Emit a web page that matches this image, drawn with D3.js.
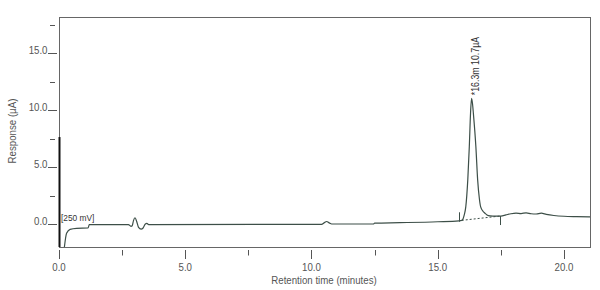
<!DOCTYPE html>
<html>
<head>
<meta charset="utf-8">
<script src="https://cdn.jsdelivr.net/npm/d3@7"></script>
<style>
  body { margin: 0; background: #fff; }
  svg text { font-family: "Liberation Sans Narrow", "Arial Narrow", "Liberation Sans", Arial, sans-serif; fill: #555; }
</style>
</head>
<body>
<svg id="chart" width="600" height="290"></svg>
<script>
// chromatogram trace (time in minutes, response in µA)
var traceTime = [0.21, 0.30, 0.44, 0.70, 1.15, 1.2, 2.75, 2.85, 2.9, 2.95, 3.01, 3.08, 3.15, 3.25, 3.33, 3.42, 3.48, 3.55,
  10.4, 10.5, 10.6, 10.7, 10.8, 12.45, 12.5, 13.5, 15.0, 15.84, 15.95, 16.0, 16.05, 16.11, 16.19, 16.25, 16.30, 16.34,
  16.38, 16.41, 16.51, 16.58, 16.65, 16.70, 16.80, 16.87, 16.95, 17.07, 17.3, 17.5, 17.7, 17.9, 18.1, 18.3, 18.5,
  18.7, 18.9, 19.1, 19.3, 19.6, 20.0, 20.5, 21.05];
var traceResp = [-2.1, -0.82, -0.47, -0.38, -0.35, -0.05, -0.05, -0.2, -0.15, 0.3, 0.55, 0.2, -0.3, -0.45, -0.35, 0.0, 0.05, -0.05,
  -0.03, 0.1, 0.22, 0.1, 0.0, 0.0, 0.08, 0.12, 0.2, 0.28, 0.32, 0.45, 0.8, 1.5, 3.9, 6.8, 9.8, 11.05,
  10.5, 9.75, 6.8, 3.9, 2.2, 1.5, 1.1, 0.95, 0.8, 0.72, 0.7, 0.7, 0.8, 0.9, 0.95, 0.92, 0.98,
  0.9, 0.88, 0.95, 0.85, 0.75, 0.68, 0.65, 0.63];

// integration baseline and peak markers
var baseTime = [15.95, 17.47];
var baseResp = [0.32, 0.70];
var markTime = [15.84, 17.47];
var markLow = [0.2, -0.09];
var markHigh = [1.03, 0.70];

var peakTime = 16.34, peakResp = 11.05;
var peakLabel = "*16.3m 10.7\u00b5A";

var xMajor = [0, 5, 10, 15, 20];
var xMinor = [2.5, 7.5, 12.5, 17.5];
var yMajor = [0, 5, 10, 15];
var yMinor = [2.5, 7.5, 12.5, 17.5];

var svg = d3.select("#chart");
var pLeft = 59, pRight = 590, pTop = 17, pBottom = 247;

var x = d3.scaleLinear().domain([0, 21.03]).range([pLeft, pRight]);
var y = d3.scaleLinear().domain([-2.02, 18.19]).range([pBottom, pTop]);

var ink = "#555";
var traceCol = "#3d4f48";
var squeeze = 0.88; // no narrow font installed, so squeeze text horizontally

function narrowText(sel, tx, ty, rot) {
  return sel.append("text")
    .attr("transform", "translate(" + tx + "," + ty + ")" + (rot ? " rotate(" + rot + ")" : "") + " scale(" + squeeze + ",1)");
}

// frame
svg.append("rect")
  .attr("x", pLeft + 0.5).attr("y", pTop + 0.5)
  .attr("width", pRight - pLeft).attr("height", pBottom - pTop)
  .attr("fill", "none").attr("stroke", "#666").attr("stroke-width", 1);

// 250 mV scale bar on the left axis
svg.append("line")
  .attr("x1", pLeft + 0.5).attr("x2", pLeft + 0.5)
  .attr("y1", y(7.64)).attr("y2", pBottom)
  .attr("stroke", "#111").attr("stroke-width", 2);

// x ticks (set off below the frame)
var xg = svg.append("g");
xg.selectAll(".maj").data(xMajor).enter().append("line")
  .attr("x1", function(d) { return Math.round(x(d)) + 0.5; })
  .attr("x2", function(d) { return Math.round(x(d)) + 0.5; })
  .attr("y1", 250).attr("y2", 259)
  .attr("stroke", ink);
xg.selectAll(".min").data(xMinor).enter().append("line")
  .attr("x1", function(d) { return Math.round(x(d)) + 0.5; })
  .attr("x2", function(d) { return Math.round(x(d)) + 0.5; })
  .attr("y1", 250).attr("y2", 255.5)
  .attr("stroke", ink);
xMajor.forEach(function(d) {
  narrowText(xg, x(d), 270.5)
    .attr("text-anchor", "middle")
    .attr("font-size", 11)
    .text(d3.format(".1f")(d));
});

// y ticks, drawn as short strokes left of the frame
var yg = svg.append("g");
yg.selectAll(".maj").data(yMajor).enter().append("line")
  .attr("x1", 48).attr("x2", 57)
  .attr("y1", function(d) { return Math.round(y(d)) + 0.5; })
  .attr("y2", function(d) { return Math.round(y(d)) + 0.5; })
  .attr("stroke", ink);
yg.selectAll(".min").data(yMinor).enter().append("line")
  .attr("x1", 50).attr("x2", 55)
  .attr("y1", function(d) { return Math.round(y(d)) + 0.5; })
  .attr("y2", function(d) { return Math.round(y(d)) + 0.5; })
  .attr("stroke", ink);
yMajor.forEach(function(d) {
  narrowText(yg, 47.5, y(d) + 0.5)
    .attr("text-anchor", "end")
    .attr("font-size", 11)
    .text(d3.format(".1f")(d));
});

// axis titles
narrowText(svg, 324, 283.5)
  .attr("text-anchor", "middle")
  .attr("font-size", 11)
  .text("Retention time (minutes)");
narrowText(svg, 16, 131, -90)
  .attr("text-anchor", "middle")
  .attr("font-size", 11)
  .text("Response (\u00b5A)");

narrowText(svg, 61, 221)
  .attr("font-size", 9.5)
  .style("fill", "#333")
  .text("[250 mV]");

// trace
svg.append("clipPath").attr("id", "clip")
  .append("rect").attr("x", pLeft).attr("y", pTop).attr("width", pRight - pLeft).attr("height", pBottom - pTop);

var pts = d3.zip(traceTime, traceResp);
var line = d3.line()
  .x(function(d) { return x(d[0]); })
  .y(function(d) { return y(d[1]); })
  .curve(d3.curveMonotoneX);

svg.append("path")
  .datum(pts)
  .attr("clip-path", "url(#clip)")
  .attr("d", line)
  .attr("fill", "none")
  .attr("stroke", traceCol)
  .attr("stroke-width", 1.2);

// dashed integration baseline
svg.append("line")
  .attr("x1", x(baseTime[0])).attr("y1", y(baseResp[0]))
  .attr("x2", x(baseTime[1])).attr("y2", y(baseResp[1]))
  .attr("stroke", traceCol).attr("stroke-dasharray", "2,2");

// start / end markers
svg.selectAll(".mark").data(markTime).enter().append("line")
  .attr("x1", function(d) { return Math.round(x(d)) + 0.5; })
  .attr("x2", function(d) { return Math.round(x(d)) + 0.5; })
  .attr("y1", function(d, i) { return y(markLow[i]); })
  .attr("y2", function(d, i) { return y(markHigh[i]); })
  .attr("stroke", traceCol);

// peak annotation
narrowText(svg, x(peakTime) + 7, y(peakResp) - 3, -90)
  .attr("font-size", 10)
  .style("fill", "#333")
  .text(peakLabel);
</script>
</body>
</html>
